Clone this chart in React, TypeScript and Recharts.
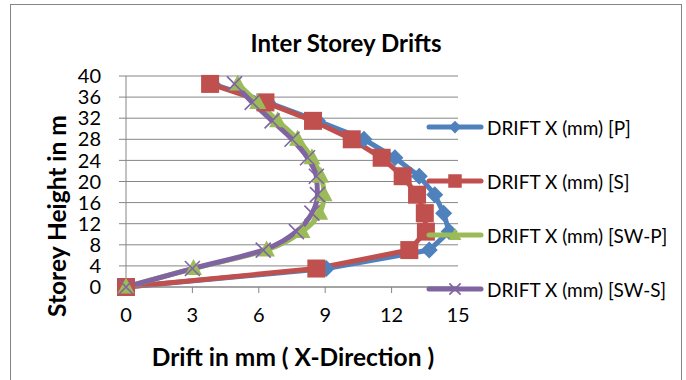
import React from 'react';
import { LineChart, Line, XAxis, YAxis, CartesianGrid, Legend } from 'recharts';

const heights = [0, 3.5, 7, 10.5, 14, 17.5, 21, 24.5, 28, 31.5, 35, 38.5];
const driftP = [0, 9.05, 13.7, 14.6, 14.35, 13.95, 13.25, 12.15, 10.75, 8.65, 6.4, 3.9];
const driftS = [0, 8.6, 12.8, 13.55, 13.5, 13.15, 12.5, 11.55, 10.2, 8.45, 6.3, 3.8];
const driftSWP = [0, 3.05, 6.35, 7.95, 8.75, 8.95, 8.8, 8.4, 7.75, 6.85, 5.95, 5.05];
const driftSWS = [0, 3.0, 6.2, 7.7, 8.4, 8.65, 8.6, 8.2, 7.5, 6.6, 5.7, 4.9];
const seriesNames = ['DRIFT X (mm) [P]', 'DRIFT X (mm) [S]', 'DRIFT X (mm) [SW-P]', 'DRIFT X (mm) [SW-S]'];
const xTicks = [0, 3, 6, 9, 12, 15];
const yTicks = [0, 4, 8, 12, 16, 20, 24, 28, 32, 36, 40];

const FONT = 'Lato, "Open Sans", sans-serif';
const GRAY = '#868686';
const COLORS = ['#4F81BD', '#C0504D', '#9BBB59', '#8064A2'];

const toData = (xs: number[]) => xs.map((x, i) => ({ x, y: heights[i] }));

function marker(kind: number, cx: number, cy: number, key?: string, small?: boolean) {
  if (cx == null || cy == null || isNaN(cx) || isNaN(cy)) return <g key={key} />;
  const k = small ? 0.75 : 1;
  if (kind === 0) {
    const r = 8.5 * k;
    return <path key={key} d={`M${cx},${cy - r}L${cx + r},${cy}L${cx},${cy + r}L${cx - r},${cy}Z`} fill={COLORS[0]} />;
  }
  if (kind === 1) {
    const s = 9 * k;
    return <rect key={key} x={cx - s} y={cy - s} width={2 * s} height={2 * s} fill={COLORS[1]} />;
  }
  if (kind === 2) {
    const w = 8.5 * k;
    return <path key={key} d={`M${cx},${cy - 9.5 * k}L${cx + w},${cy + 6.5 * k}L${cx - w},${cy + 6.5 * k}Z`} fill={COLORS[2]} />;
  }
  const a = 7.5 * k;
  return (
    <path key={key} d={`M${cx - a},${cy - a}L${cx + a},${cy + a}M${cx - a},${cy + a}L${cx + a},${cy - a}`} stroke={COLORS[3]} strokeWidth={1.6} fill="none" />
  );
}

const dotFor = (kind: number) => (props: any) => marker(kind, props.cx, props.cy, `d${kind}-${props.index}`);

const renderLegend = () => (
  <div style={{ fontFamily: FONT, fontSize: 19, color: '#000' }}>
    {seriesNames.map((name, i) => (
      <div key={name} style={{ height: 54, display: 'flex', alignItems: 'center' }}>
        <svg width={58} height={22} style={{ flex: 'none' }}>
          <line x1={3} y1={11} x2={55} y2={11} stroke={COLORS[i]} strokeWidth={5} strokeLinecap="round" />
          {marker(i, 29, 11, undefined, true)}
        </svg>
        <span style={{ marginLeft: 3, whiteSpace: 'nowrap' }}>{name}</span>
      </div>
    ))}
  </div>
);

const allSeries = [driftP, driftS, driftSWP, driftSWS];

export default function App() {
  return (
    <div style={{ position: 'absolute', left: 0, top: 0, width: 686, height: 380, overflow: 'hidden', background: '#fff' }}>
      <div style={{ position: 'absolute', left: 10, top: 4, width: 670, height: 420, border: `1px solid ${GRAY}` }} />
      <div style={{ position: 'absolute', left: 0, top: 0, width: 686, height: 380 }}>
        <LineChart width={686} height={380} margin={{ top: 76, right: 228, left: 0, bottom: 63 }}>
          <CartesianGrid vertical={false} stroke={GRAY} strokeWidth={1} />
          <XAxis
            type="number"
            dataKey="x"
            domain={[0, 15]}
            ticks={xTicks}
            interval={0}
            height={30}
            axisLine={{ stroke: GRAY }}
            tickLine={{ stroke: GRAY }}
            tickSize={6}
            tickMargin={15}
            tick={{ fill: '#000', fontSize: 20, fontFamily: FONT }}
          />
          <YAxis
            type="number"
            dataKey="y"
            domain={[0, 40]}
            ticks={yTicks}
            interval={0}
            width={126}
            axisLine={{ stroke: GRAY }}
            tickLine={{ stroke: GRAY }}
            tickSize={7}
            tickMargin={18}
            tick={{ fill: '#000', fontSize: 20, fontFamily: FONT }}
          />
          <Legend
            layout="vertical"
            align="center"
            verticalAlign="middle"
            content={renderLegend}
            wrapperStyle={{ position: 'absolute', left: 426, top: 100, width: 260 }}
          />
          {allSeries.map((s, i) => (
            <Line
              key={seriesNames[i]}
              name={seriesNames[i]}
              data={toData(s)}
              dataKey="y"
              type={i >= 2 ? 'monotoneY' : 'linear'}
              stroke={COLORS[i]}
              strokeWidth={5}
              dot={dotFor(i)}
              activeDot={false}
              isAnimationActive={false}
            />
          ))}
        </LineChart>
      </div>
      <div style={{ position: 'absolute', left: 10, width: 672, top: 28, textAlign: 'center', fontFamily: FONT, fontWeight: 700, fontSize: 24, color: '#000' }}>
        Inter Storey Drifts
      </div>
      <div style={{ position: 'absolute', left: 98, width: 390, top: 342, textAlign: 'center', fontFamily: FONT, fontWeight: 700, fontSize: 24.5, color: '#000', whiteSpace: 'nowrap' }}>
        Drift in mm ( X-Direction )
      </div>
      <div style={{ position: 'absolute', left: 57, top: 216, width: 0, height: 0 }}>
        <div style={{ position: 'absolute', left: -150, top: -15, width: 300, height: 30, lineHeight: '30px', textAlign: 'center', transform: 'rotate(-90deg)', fontFamily: FONT, fontWeight: 700, fontSize: 24.5, color: '#000', whiteSpace: 'nowrap' }}>
          Storey Height in m
        </div>
      </div>
    </div>
  );
}
